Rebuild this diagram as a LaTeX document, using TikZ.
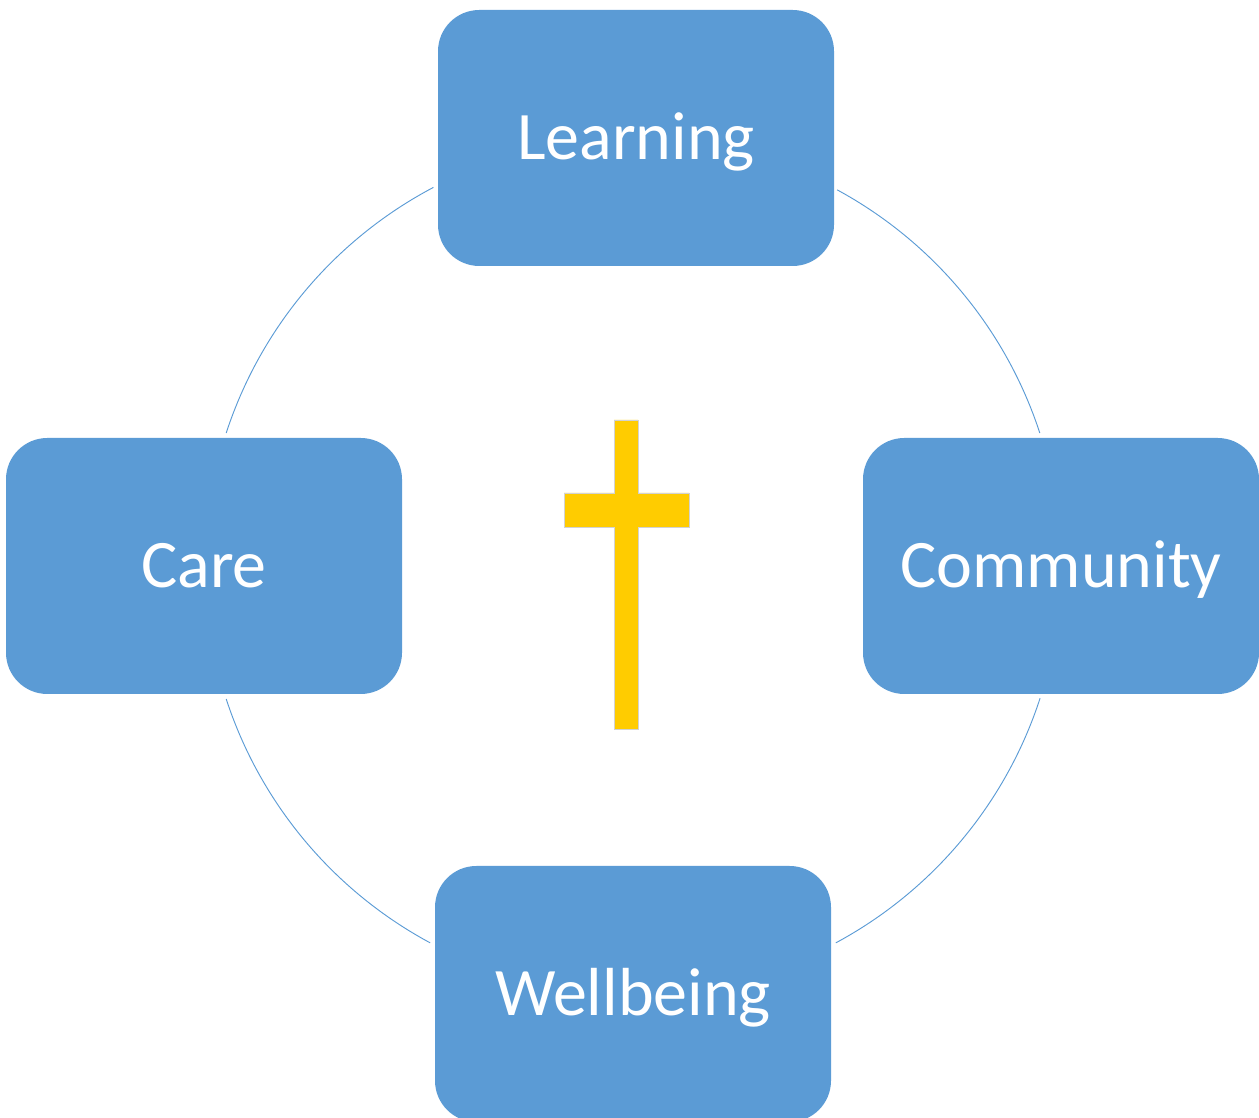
\documentclass[tikz,border=0pt]{standalone}
\usepackage{fontspec}
\setmainfont{Carlito}
\usepackage{tikz}
\usetikzlibrary{positioning}
\definecolor{pillarblue}{HTML}{5B9BD5}
\definecolor{crossgold}{HTML}{FFCC00}
\tikzstyle{pillar}=[rectangle, rounded corners=31pt, fill=pillarblue, text=white,
  minimum width=297pt, minimum height=192pt, font=\fontsize{51}{60}\selectfont,
  text height=36.7pt, text depth=5.1pt]
\tikzstyle{ring}=[draw=pillarblue, line width=0.7pt]

\begin{document}
\begin{tikzpicture}[x=0.75pt, y=0.75pt]
          \useasboundingbox (0,0) rectangle (1259,1117);
          \coordinate (hub) at (633,551);
          \node[pillar] (learning) at (636,979){Learning};
          \node[pillar] (care) at (204,551){Care};
          \node[pillar] (community) at (1061,551){Community};
          \node[pillar] (wellbeing) at (633,123){Wellbeing};
          % ring between the pillars
          \draw[ring] (hub) ++(117.8:428) arc[start angle=117.8, end angle=161.9, radius=428];
          \draw[ring] (hub) ++(61.5:428) arc[start angle=61.5, end angle=18.1, radius=428];
          \draw[ring] (hub) ++(198.1:428) arc[start angle=198.1, end angle=241.7, radius=428];
          \draw[ring] (hub) ++(298.3:428) arc[start angle=298.3, end angle=342, radius=428];
          % cross
          \fill[crossgold, draw=gray!35, line width=0.4pt]
            (614,388) -- (614,590) -- (564,590) -- (564,624) -- (614,624) -- (614,697)
            -- (638,697) -- (638,624) -- (689,624) -- (689,590) -- (638,590) -- (638,388) -- cycle;
        \end{tikzpicture}
\end{document}
